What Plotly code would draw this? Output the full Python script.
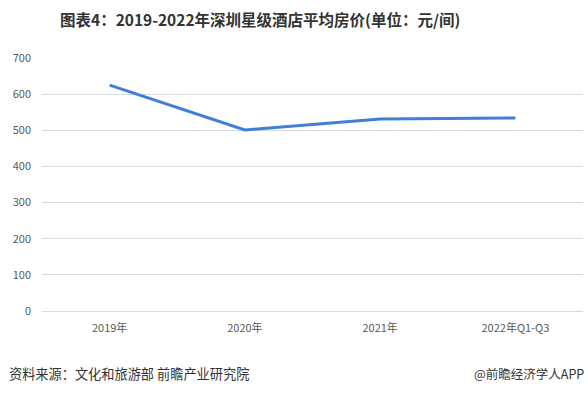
import plotly.graph_objects as go

categories = ["2019年", "2020年", "2021年", "2022年Q1-Q3"]
values = [625, 501, 531, 534]
y_ticks = [0, 100, 200, 300, 400, 500, 600, 700]

title_text = "图表4：2019-2022年深圳星级酒店平均房价(单位：元/间)"
source_text = "资料来源：文化和旅游部 前瞻产业研究院"
brand_text = "@前瞻经济学人APP"

font_family = "Microsoft YaHei, Noto Sans CJK SC, sans-serif"

fig = go.Figure()
fig.add_trace(go.Scatter(
    x=categories, y=values, mode="lines",
    line=dict(color="#3f7fd6", width=3),
    hoverinfo="x+y",
))

fig.update_layout(
    width=588, height=394,
    margin=dict(l=42, r=5, t=58, b=83),
    paper_bgcolor="white", plot_bgcolor="white",
    showlegend=False,
    font=dict(family=font_family, color="#595959", size=11),
    xaxis=dict(
        type="category", range=[-0.5, 3.5],
        showgrid=False, zeroline=False, showline=False,
        ticks="", tickfont=dict(size=11, color="#595959"),
        ticklabelstandoff=9,
    ),
    yaxis=dict(
        range=[0, 700], tickvals=y_ticks,
        showgrid=True, gridcolor="#d9d9d9", gridwidth=1,
        zeroline=True, zerolinecolor="#d9d9d9", zerolinewidth=1,
        showline=False, ticks="",
        tickfont=dict(size=11, color="#595959"),
        ticklabelstandoff=10,
    ),
    annotations=[
        dict(text="<b>" + title_text + "</b>", xref="paper", yref="paper",
             x=(260 - 42) / 541, y=1, xanchor="center", yanchor="bottom", yshift=26,
             showarrow=False, font=dict(size=15.5, color="#333333", family=font_family)),
        dict(text=source_text, xref="paper", yref="paper",
             x=0, y=0, xanchor="left", yanchor="middle", xshift=-35, yshift=-62,
             showarrow=False, font=dict(size=13.2, color="#333333", family=font_family)),
        dict(text=brand_text, xref="paper", yref="paper",
             x=1, y=0, xanchor="right", yanchor="middle", xshift=3, yshift=-62,
             showarrow=False, font=dict(size=12.5, color="#333333", family=font_family)),
    ],
)

fig.write_html("out.html")
